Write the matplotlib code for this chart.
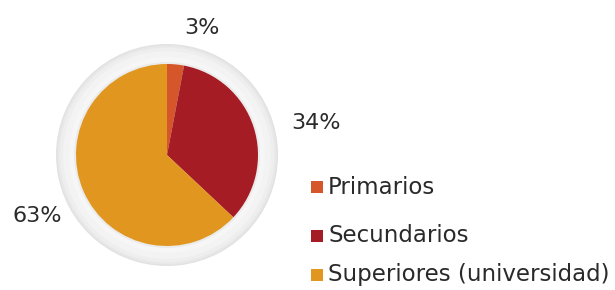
import matplotlib
matplotlib.use("Agg")
import matplotlib.pyplot as plt
from matplotlib.patches import Circle

categories = ["Primarios", "Secundarios", "Superiores (universidad)"]
values = [3, 34, 63]
labels = ["3%", "34%", "63%"]
colors = ["#d4562a", "#a51c24", "#e0961f"]

W, H = 615, 290
fig = plt.figure(figsize=(W / 100, H / 100), dpi=100)
ax = fig.add_axes([0, 0, 1, 1])

cx, cy = 167, H - 155
# outer ring with soft shading
for r, c in [(111, "#e2e2e2"), (109.5, "#e8e8e8"), (107.5, "#eeeeee"), (104, "#f3f3f4"), (98, "#f6f6f7"), (93, "#ebebeb")]:
    ax.add_patch(Circle((cx, cy), r, facecolor=c, edgecolor="none", zorder=1))

ax.pie(values, colors=colors, startangle=90, counterclock=False,
       center=(cx, cy), radius=91, frame=True,
       wedgeprops=dict(linewidth=0, zorder=2))
ax.set_xlim(0, W)
ax.set_ylim(0, H)
ax.set_aspect("equal")
ax.axis("off")

font = "DejaVu Sans"
label_pos = [(202, H - 28), (316, H - 123), (37, H - 216)]
for (x, y), t in zip(label_pos, labels):
    ax.text(x, y, t, fontsize=16, family=font, color="#2a2a2a",
            ha="center", va="center")

legend_y = [187, 236, 275]
for y, name, col in zip(legend_y, categories, colors):
    ax.add_patch(plt.Rectangle((311, H - y - 6), 12, 12, facecolor=col, edgecolor="none"))
    ax.text(328, H - y, name, fontsize=16.5, family=font, color="#2a2a2a",
            ha="left", va="center")

fig.savefig("out.png", dpi=100, facecolor="white")
